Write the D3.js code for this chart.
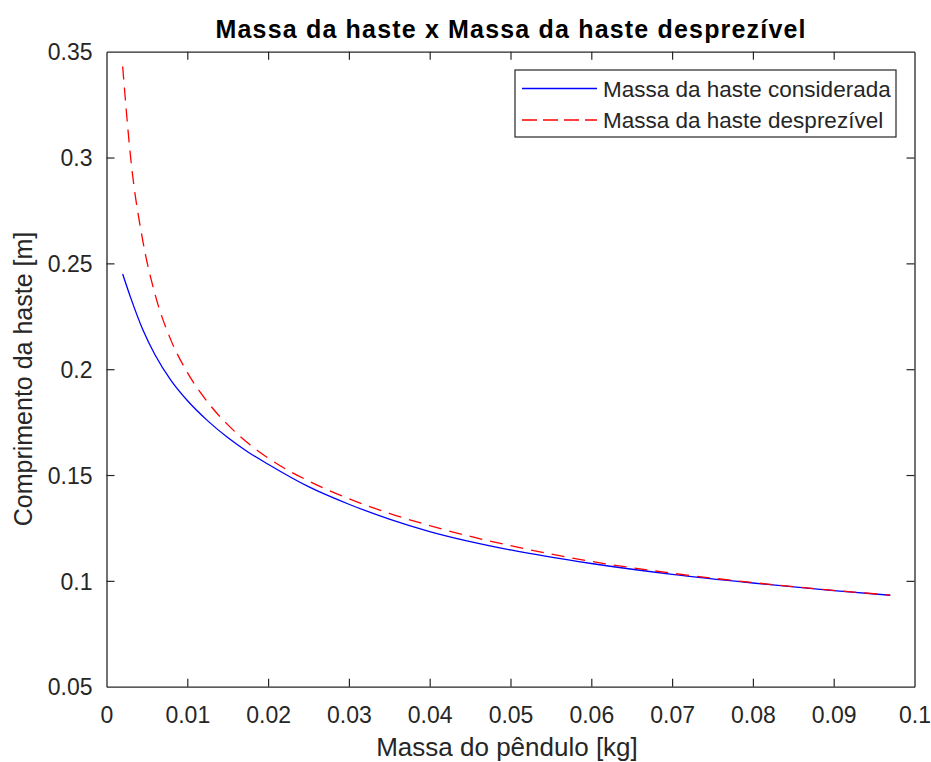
<!DOCTYPE html>
<html>
<head>
<meta charset="utf-8">
<script src="https://cdn.jsdelivr.net/npm/d3@7"></script>
<style>
  html, body { margin: 0; padding: 0; background: #fff; }
  svg { display: block; font-family: "Liberation Sans", Arial, sans-serif; }
</style>
</head>
<body>
<svg id="chart" width="931" height="762"></svg>
<script>
// Pendulum mass [kg] at which each rod length was evaluated
const massa = [0.002, 0.003, 0.0045, 0.006, 0.008, 0.01, 0.0125, 0.015, 0.0175, 0.02,
               0.025, 0.03, 0.035, 0.04, 0.05, 0.06, 0.07, 0.08, 0.09, 0.097];

// Rod length [m] taking the rod's own mass into account
const comprimentoConsiderada = [0.245, 0.2337, 0.2186, 0.2068, 0.1946, 0.1852, 0.1757, 0.1677, 0.1609, 0.1551,
                                0.1445, 0.1362, 0.1292, 0.1233, 0.1146, 0.1082, 0.1031, 0.0990, 0.0954, 0.0932];

// Rod length [m] with the rod's mass neglected
const comprimentoDesprezivel = [0.343, 0.2995, 0.2605, 0.2355, 0.2135, 0.1985, 0.1845, 0.1738, 0.1651, 0.158,
                                0.1472, 0.1388, 0.1319, 0.1261, 0.1166, 0.1092, 0.1036, 0.0992, 0.0955, 0.0933];

const xTicks = [0, 0.01, 0.02, 0.03, 0.04, 0.05, 0.06, 0.07, 0.08, 0.09, 0.1];
const yTicks = [0.05, 0.1, 0.15, 0.2, 0.25, 0.3, 0.35];

const seriesNames = ["Massa da haste considerada", "Massa da haste desprezível"];
const titulo = "Massa da haste x Massa da haste desprezível";
const rotuloX = "Massa do pêndulo [kg]";
const rotuloY = "Comprimento da haste [m]";

const axisColor = "#262626";
const plotL = 106.5, plotR = 914.5, plotT = 51.7, plotB = 686.7;

const svg = d3.select("#chart");

const x = d3.scaleLinear().domain([0, 0.1]).range([plotL, plotR]);
const y = d3.scaleLinear().domain([0.05, 0.35]).range([plotB, plotT]);

// Axes with inward ticks on all four sides
const fmt = d => d === 0 ? "0" : String(+d.toFixed(3));
const tickLen = 8;

const gx = svg.append("g").attr("transform", `translate(0,${plotB})`)
  .call(d3.axisBottom(x).tickValues(xTicks).tickFormat(fmt).tickSizeInner(-tickLen).tickSizeOuter(0).tickPadding(20));
const gxTop = svg.append("g").attr("transform", `translate(0,${plotT})`)
  .call(d3.axisTop(x).tickValues(xTicks).tickFormat("").tickSizeInner(-tickLen).tickSizeOuter(0));
const gy = svg.append("g").attr("transform", `translate(${plotL},0)`)
  .call(d3.axisLeft(y).tickValues(yTicks).tickFormat(fmt).tickSizeInner(-tickLen).tickSizeOuter(0).tickPadding(14));
const gyRight = svg.append("g").attr("transform", `translate(${plotR},0)`)
  .call(d3.axisRight(y).tickValues(yTicks).tickFormat("").tickSizeInner(-tickLen).tickSizeOuter(0));

[gx, gxTop, gy, gyRight].forEach(g => {
  g.select(".domain").attr("stroke", axisColor).attr("stroke-width", 1.3);
  g.selectAll(".tick line").attr("stroke", axisColor).attr("stroke-width", 1.2);
  g.selectAll(".tick text").attr("fill", axisColor).attr("font-size", 23)
    .attr("font-family", "Liberation Sans, Arial, sans-serif");
});
gx.selectAll(".tick text").attr("dy", "0.71em");
gy.selectAll(".tick text").attr("dy", "0.36em");

// Remove the ticks sitting on the box corners
gxTop.selectAll(".tick").filter(d => d === 0 || d === 0.1).select("line").remove();
gx.selectAll(".tick").filter(d => d === 0 || d === 0.1).select("line").remove();
gy.selectAll(".tick").filter(d => d === 0.05 || d === 0.35).select("line").remove();
gyRight.selectAll(".tick").filter(d => d === 0.05 || d === 0.35).select("line").remove();

// Curves
const dataConsiderada = massa.map((m, i) => [m, comprimentoConsiderada[i]]);
const dataDesprezivel = massa.map((m, i) => [m, comprimentoDesprezivel[i]]);

const line = d3.line().x(d => x(d[0])).y(d => y(d[1])).curve(d3.curveMonotoneX);

svg.append("path").datum(dataConsiderada)
  .attr("d", line).attr("fill", "none").attr("stroke", "#0000ff").attr("stroke-width", 1.3);
svg.append("path").datum(dataDesprezivel)
  .attr("d", line).attr("fill", "none").attr("stroke", "#ff0000").attr("stroke-width", 1.3)
  .attr("stroke-dasharray", "13,8");

// Legend
const lg = svg.append("g");
lg.append("rect").attr("x", 515).attr("y", 70).attr("width", 381).attr("height", 67)
  .attr("fill", "#fff").attr("stroke", axisColor).attr("stroke-width", 1.2);
const rows = [
  { name: seriesNames[0], color: "#0000ff", dash: null, yy: 88.5 },
  { name: seriesNames[1], color: "#ff0000", dash: "15,6", yy: 120 }
];
rows.forEach(r => {
  lg.append("line").attr("x1", 522).attr("x2", 597).attr("y1", r.yy).attr("y2", r.yy)
    .attr("stroke", r.color).attr("stroke-width", 1.3).attr("stroke-dasharray", r.dash);
  lg.append("text").attr("x", 603).attr("y", r.yy).attr("dy", "0.36em")
    .attr("font-size", 22.5).attr("fill", axisColor).text(r.name);
});

// Title and axis labels
svg.append("text").attr("x", (plotL + plotR) / 2).attr("y", 38).attr("text-anchor", "middle")
  .attr("font-size", 25).attr("font-weight", "bold").attr("fill", "#000")
  .attr("textLength", 590).attr("lengthAdjust", "spacing").text(titulo);

svg.append("text").attr("x", 507).attr("y", 756).attr("text-anchor", "middle")
  .attr("font-size", 26).attr("fill", axisColor).text(rotuloX);

svg.append("text").attr("transform", `translate(32,379) rotate(-90)`)
  .attr("text-anchor", "middle").attr("font-size", 25).attr("fill", axisColor).text(rotuloY);
</script>
</body>
</html>
